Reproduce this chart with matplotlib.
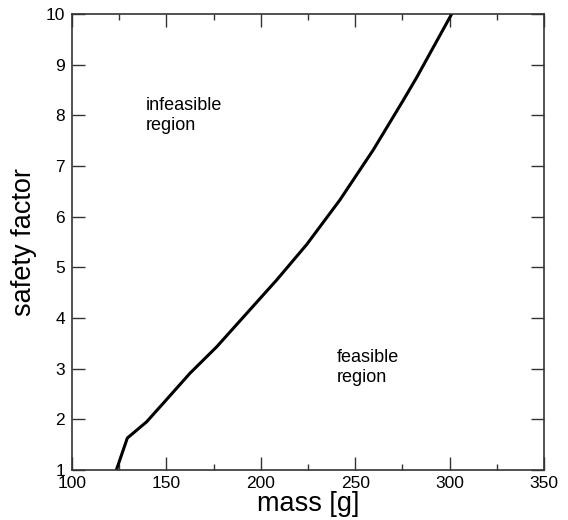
import numpy as np
import matplotlib
matplotlib.use('Agg')
import matplotlib.pyplot as plt
from matplotlib.ticker import MultipleLocator

plt.rcParams['font.family'] = ['Liberation Sans', 'DejaVu Sans']

# curve (mass in g, safety factor)
mass = [123.5, 129.3, 139.5, 148.4, 162.5, 176.6, 192.5, 208.4, 224.3,
        241.9, 259.6, 275.5, 282.6, 301.1]
safety = [1.0, 1.63, 1.95, 2.32, 2.91, 3.43, 4.09, 4.75, 5.45,
          6.33, 7.32, 8.30, 8.75, 10.0]

xticks = [100, 150, 200, 250, 300, 350]
yticks = [1, 2, 3, 4, 5, 6, 7, 8, 9, 10]

fig = plt.figure(figsize=(5.68, 5.2), dpi=100)
ax = fig.add_axes([72/568, 1-470/520, 472/568, 456/520])

ax.plot(mass, safety, color='black', lw=2.2, solid_joinstyle='round')

ax.set_xlim(100, 350)
ax.set_ylim(1, 10)
ax.set_xticks(xticks)
ax.set_yticks(yticks)
ax.xaxis.set_minor_locator(MultipleLocator(25))
ax.tick_params(which='both', direction='in', top=True, right=True,
               labelsize=12.5, color='#333333')
ax.tick_params(which='major', length=9.5, width=1)
ax.tick_params(which='minor', length=4.5, width=1)
ax.tick_params(axis='x', pad=4.5)
ax.tick_params(axis='y', pad=5)
for s in ax.spines.values():
    s.set_color('#333333')
    s.set_linewidth(1.2)

ax.set_xlabel('mass [g]', fontsize=19.5, labelpad=0)
ax.set_ylabel('safety factor', fontsize=19.5, labelpad=6)

ax.text(139.2, 8.36, 'infeasible\nregion', fontsize=13, va='top', ha='left')
ax.text(240, 3.38, 'feasible\nregion', fontsize=13, va='top', ha='left')

fig.savefig('out.png', dpi=100)
